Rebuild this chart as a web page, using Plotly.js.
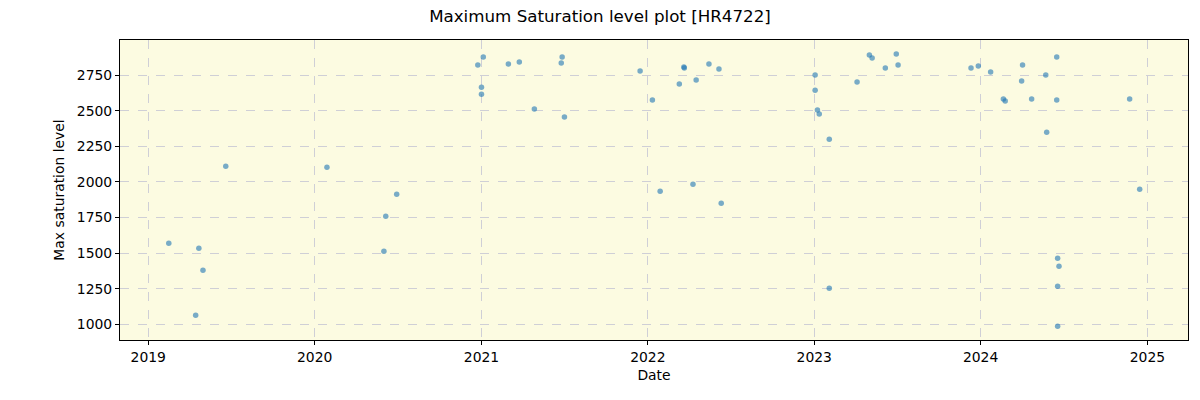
<!DOCTYPE html>
<html>
<head>
<meta charset="utf-8">
<script src="https://cdn.plot.ly/plotly-3.0.1.min.js"></script>
<style>html,body{margin:0;padding:0;background:#fff;}#chart{width:1200px;height:400px;}</style>
</head>
<body>
<div id="chart"></div>
<script>
const dates = [
  "2019-02-15","2019-04-15","2019-04-22","2019-05-01","2019-06-20",
  "2020-01-28","2020-06-01","2020-06-05","2020-06-29",
  "2020-12-24","2021-01-01","2021-01-01","2021-01-05","2021-03-01","2021-03-25","2021-04-27",
  "2021-06-25","2021-06-27","2021-07-02","2021-12-15",
  "2022-01-11","2022-01-28","2022-03-11","2022-03-21","2022-03-22","2022-04-10","2022-04-17",
  "2022-05-15","2022-06-06","2022-06-11",
  "2023-01-03","2023-01-03","2023-01-08","2023-01-12","2023-02-03","2023-02-03",
  "2023-04-05","2023-05-02","2023-05-08","2023-06-06","2023-06-30","2023-07-04",
  "2023-12-11","2023-12-27","2024-01-23","2024-02-20","2024-02-24","2024-03-31","2024-04-02",
  "2024-04-22","2024-05-23","2024-05-25","2024-06-16","2024-06-16","2024-06-18",
  "2024-06-18","2024-06-18","2024-06-21","2024-11-23","2024-12-15"
];
const maxSaturation = [
  1569,1063,1534,1379,2110,
  2103,1513,1759,1914,
  2820,2665,2616,2876,2827,2841,2511,
  2834,2876,2455,2778,
  2574,1935,2687,2806,2799,1984,2715,
  2827,2792,1850,
  2750,2644,2504,2476,2300,1253,
  2701,2890,2869,2799,2897,2820,
  2799,2813,2771,2581,2567,2708,2820,
  2581,2750,2349,2876,2574,1464,
  1267,986,1408,2581,1949
];
const yTicks = [1000,1250,1500,1750,2000,2250,2500,2750];
const xTickVals = ["2019-01-01","2020-01-01","2021-01-01","2022-01-01","2023-01-01","2024-01-01","2025-01-01"];
const xTickText = ["2019","2020","2021","2022","2023","2024","2025"];

const trace = {
  x: dates, y: maxSaturation, type: "scatter", mode: "markers",
  marker: {size: 5.5, color: "rgba(31,119,180,0.6)", line: {width: 0}},
  hoverinfo: "x+y"
};
const fam = "DejaVu Sans, sans-serif";
const layout = {
  width: 1200, height: 400,
  margin: {l: 120, r: 12, t: 40, b: 60, pad: 0},
  paper_bgcolor: "#ffffff",
  plot_bgcolor: "#fcfbe1",
  showlegend: false,
  title: {text: "Maximum Saturation level plot [HR4722]", font: {family: fam, size: 16.7, color: "#000"}, x: 0.5, xanchor: "center", y: 0.96, yanchor: "middle"},
  xaxis: {
    type: "date",
    range: ["2018-10-31", "2025-03-31"],
    tickvals: xTickVals, ticktext: xTickText,
    tickfont: {family: fam, size: 13.9, color: "#000"},
    ticks: "outside", ticklen: 4, tickcolor: "#000",
    showgrid: true, gridcolor: "#cfcfd6", griddash: "dash", gridwidth: 1,
    showline: true, linecolor: "#000", linewidth: 1, mirror: true,
    zeroline: false,
    title: {text: "Date", font: {family: fam, size: 13.9, color: "#000"}, standoff: 6}
  },
  yaxis: {
    range: [890, 2996],
    tickvals: yTicks,
    tickfont: {family: fam, size: 13.9, color: "#000"},
    ticks: "outside", ticklen: 4, tickcolor: "#000",
    showgrid: true, gridcolor: "#cfcfd6", griddash: "dash", gridwidth: 1,
    showline: true, linecolor: "#000", linewidth: 1, mirror: true,
    zeroline: false,
    title: {text: "Max saturation level", font: {family: fam, size: 13.9, color: "#000"}, standoff: 8}
  }
};
Plotly.newPlot("chart", [trace], layout, {displayModeBar: false, staticPlot: true});
</script>
</body>
</html>
